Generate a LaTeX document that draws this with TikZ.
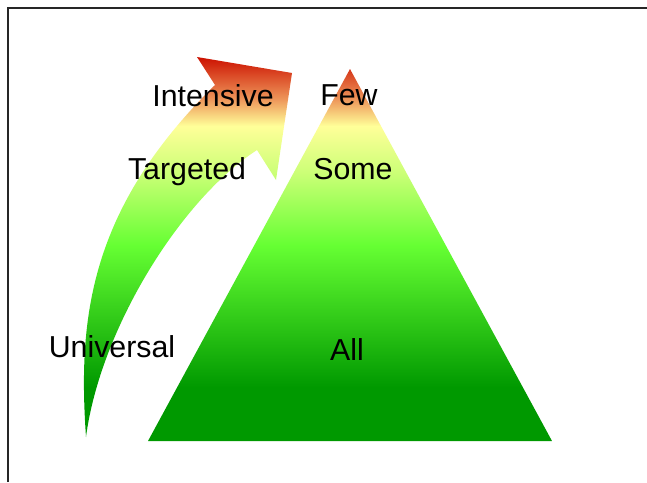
\documentclass[tikz,border=0pt]{standalone}
\usepackage{fontspec}
\setmainfont{Liberation Sans}
\definecolor{topred}{RGB}{204,17,0}
\definecolor{warmorange}{RGB}{238,150,90}
\definecolor{paleyellow}{RGB}{255,255,153}
\definecolor{limegreen}{RGB}{204,255,119}
\definecolor{brightgreen}{RGB}{102,255,51}
\definecolor{deepgreen}{RGB}{0,153,0}
\pgfdeclareverticalshading{ladder}{100bp}{color(0bp)=(deepgreen); color(32bp)=(deepgreen);
  color(50.5bp)=(brightgreen); color(60bp)=(limegreen); color(66bp)=(paleyellow);
  color(69.5bp)=(warmorange); color(75bp)=(topred); color(100bp)=(topred)}
\tikzset{
  tier/.style={font=\fontsize{30.3}{33}\selectfont, inner sep=0pt, anchor=base},
  frame/.style={line width=1.2pt, black!85}
}

\begin{document}
\begin{tikzpicture}[x=1pt, y=-1pt]
  \useasboundingbox (0,0) rectangle (647,482);
  \draw[frame] (8,482) -- (8,8) -- (647,8);

  % curved arrow
  \begin{scope}
    \clip (86,437) .. controls (78,320) and (88,210) .. (215,85)
      -- (197,57) -- (292,73) -- (276,180) -- (257,150)
      .. controls (180,200) and (100,330) .. (86,437) -- cycle;
    \shade[shading=ladder] (0,57) rectangle (647,441);
  \end{scope}

  % pyramid
  \begin{scope}
    \clip (350,69) -- (552,441) -- (148,441) -- cycle;
    \shade[shading=ladder] (0,57) rectangle (647,441);
  \end{scope}

  \node[tier] (intensive) at (213,106) {Intensive};
  \node[tier] (targeted) at (187,179) {Targeted};
  \node[tier] (universal) at (112,357) {Universal};
  \node[tier] (few) at (349,105) {Few};
  \node[tier] (some) at (353,179) {Some};
  \node[tier] (all) at (347,360) {All};
\end{tikzpicture}
\end{document}
